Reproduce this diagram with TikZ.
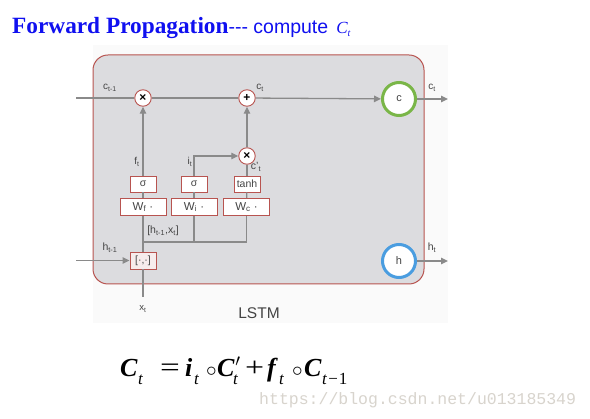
\documentclass[tikz,border=0pt]{standalone}
\usepackage{fontspec}
\usepackage{graphicx}
\setmainfont{Liberation Serif}
\setsansfont{Liberation Sans}
\setmonofont{Liberation Mono}
\usetikzlibrary{arrows.meta}
\definecolor{boxfill}{HTML}{DCDCDF}
\definecolor{boxborder}{HTML}{B85450}
\definecolor{wire}{HTML}{8A8A8A}
\definecolor{lab}{HTML}{444444}
\definecolor{cgreen}{HTML}{7AB648}
\definecolor{hblue}{HTML}{4A9DE0}
\definecolor{titleblue}{HTML}{1010F0}
\definecolor{wm}{HTML}{D8D4CD}
\definecolor{pinkfill}{HTML}{F7ECEC}
\definecolor{faint}{HTML}{FAFAFA}
\newcommand{\fsub}[1]{\raisebox{-8pt}{\fontsize{17}{17}\selectfont\itshape #1}}
\newcommand{\fbi}[1]{\textbf{\textit{#1}}}
\newcommand{\fpiece}[2]{\makebox[#1pt][l]{#2}}
\newcommand{\fcirc}{\scalebox{0.85}{$\circ$}}
\tikzset{
  wireline/.style={draw=wire, line width=1.3pt},
  arr/.style={wireline, -{Triangle[length=7pt,width=6.5pt]}},
  opnode/.style={circle, draw=boxborder, line width=0.9pt, fill=white, minimum size=16.5pt, inner sep=0pt, font=\sffamily\bfseries\fontsize{12}{12}\selectfont},
  gatebox/.style={rectangle, draw=boxborder, line width=0.9pt, fill=white, minimum width=26pt, minimum height=16pt, inner sep=0pt, text=lab, font=\sffamily\fontsize{10.5}{10}\selectfont},
  wbox/.style={rectangle, draw=boxborder, line width=0.9pt, fill=white, minimum width=46pt, minimum height=17pt, inner sep=0pt, text=lab, font=\sffamily\fontsize{11.5}{11}\selectfont},
  statenode/.style={circle, line width=3pt, fill=white, minimum size=33pt, inner sep=0pt, text=lab, font=\sffamily\fontsize{11}{11}\selectfont},
  smalllab/.style={text=lab, font=\sffamily\fontsize{10}{10}\selectfont, inner sep=0pt},
}
\begin{document}
\begin{tikzpicture}[x=1pt,y=-1pt]
\useasboundingbox (0,0) rectangle (590,419);
\fill[white] (0,0) rectangle (590,419);
% faint background
\fill[faint] (93,45) rectangle (448,323);
% main LSTM box
\draw[boxborder, fill=boxfill, line width=1pt, rounded corners=15pt] (93,55) rectangle (424,284);

% title
\node[anchor=base west, inner sep=0pt, text=titleblue] (title) at (12,34)
  {\fontsize{23.3}{24}\selectfont\bfseries Forward Propagation\mdseries\sffamily\fontsize{19.5}{22}\selectfont-{}-{}- compute\hspace{8pt}\rmfamily\itshape\fontsize{17}{18}\selectfont C\raisebox{-3pt}{\fontsize{10}{10}\selectfont t}};

% nodes
\node[opnode] (f1) at (143,98) {×};
\node[opnode] (p1) at (247,98) {+};
\node[opnode] (m2) at (247,156) {×};
\node[statenode, draw=cgreen] (c) at (399,99) {c};
\node[statenode, draw=hblue] (h) at (399,261) {h};
\node[gatebox] (s1) at (143,184) {σ};
\node[gatebox] (s2) at (194,184) {σ};
\node[gatebox] (th) at (247,184) {tanh};
\node[wbox] (wf) at (143,207) {W\textsubscript{f} ·};
\node[wbox] (wi) at (194,207) {W\textsubscript{i} ·};
\node[wbox] (wc) at (246.5,207) {W\textsubscript{c} ·};
\node[gatebox, fill=pinkfill, minimum height=17pt] (cat) at (143,260.5) {[·,·]};

\coordinate (cin) at (76,98);
\coordinate (cout) at (448,99);
\coordinate (hin) at (76,260.5);
\coordinate (hout) at (448,261);
\coordinate (xin) at (143,297);
\coordinate (jl) at (143,242);
\coordinate (jm) at (194,242);
\coordinate (jr) at (246.5,242);

% connectors
\draw[wireline] (cin) -- (f1);
\draw[wireline] (f1) -- (p1);
\draw[arr] (p1) -- (c);
\draw[arr] (c) -- (cout);
\draw[arr] (h) -- (hout);
\draw[arr] (hin) -- (cat);
\draw[wireline] (xin) -- (cat);
\draw[wireline] (cat) -- (wf);
\draw[wireline] (wf) -- (s1);
\draw[arr] (s1) -- (f1);
\draw[wireline] (wi) -- (s2);
\draw[arr] (s2.north) |- (m2);
\draw[wireline] (wc) -- (th);
\draw[wireline] (th) -- (m2);
\draw[arr] (m2) -- (p1);
\draw[wireline] (wi.south) -- (jm);
\draw[wireline] (wc.south) -- (jr) -- (jl);

% labels
\node[smalllab] (lc1) at (110,88) {c\textsubscript{t-1}};
\node[smalllab] (lc2) at (260,88) {c\textsubscript{t}};
\node[smalllab] (lc3) at (432,88) {c\textsubscript{t}};
\node[smalllab] (lf) at (137,162) {f\textsubscript{t}};
\node[smalllab] (li) at (190,162) {i\textsubscript{t}};
\node[smalllab, font=\sffamily\fontsize{10.5}{10}\selectfont] (lcp) at (256,167) {c'\textsubscript{t}};
\node[smalllab, font=\sffamily\fontsize{10.5}{10}\selectfont] (lhx) at (163,231) {[h\textsubscript{t-1},x\textsubscript{t}]};
\node[smalllab, font=\sffamily\fontsize{10.5}{10}\selectfont] (lh1) at (110,248) {h\textsubscript{t-1}};
\node[smalllab, font=\sffamily\fontsize{10.5}{10}\selectfont] (lh2) at (432,248) {h\textsubscript{t}};
\node[smalllab, font=\sffamily\fontsize{9.5}{9}\selectfont] (lx) at (143,309) {x\textsubscript{t}};
\node[text=lab, inner sep=0pt, font=\sffamily\fontsize{15.5}{16}\selectfont] (lstm) at (259,313) {LSTM};

% formula
\node[anchor=base west, inner sep=0pt] (formula) at (120,377)
  {\fontsize{26}{28}\selectfont%
   \fpiece{18}{\fbi{C}}%
   \fpiece{22}{\fsub{t}}%
   \fpiece{25}{\scalebox{1.35}[1.05]{=}}%
   \fpiece{9}{\fbi{i}}%
   \fpiece{12}{\fsub{t}}%
   \fpiece{11}{\fcirc}%
   \fpiece{16}{\fbi{C}\rlap{\kern0.5pt\raisebox{1pt}{$'$}}}%
   \fpiece{12}{\fsub{t}}%
   \fpiece{22}{\scalebox{1.3}[1.05]{+}}%
   \fpiece{12}{\fbi{f}}%
   \fpiece{13}{\fsub{t}}%
   \fpiece{12}{\fcirc}%
   \fpiece{18}{\fbi{C}}%
   \fsub{t\/\upshape\kern1pt−\kern1pt1}};

% watermark
\node[anchor=base west, inner sep=0pt, text=wm, font=\ttfamily\fontsize{16.5}{17}\selectfont] (wmark) at (259,405) {https://blog.csdn.net/u013185349};
\end{tikzpicture}
\end{document}
